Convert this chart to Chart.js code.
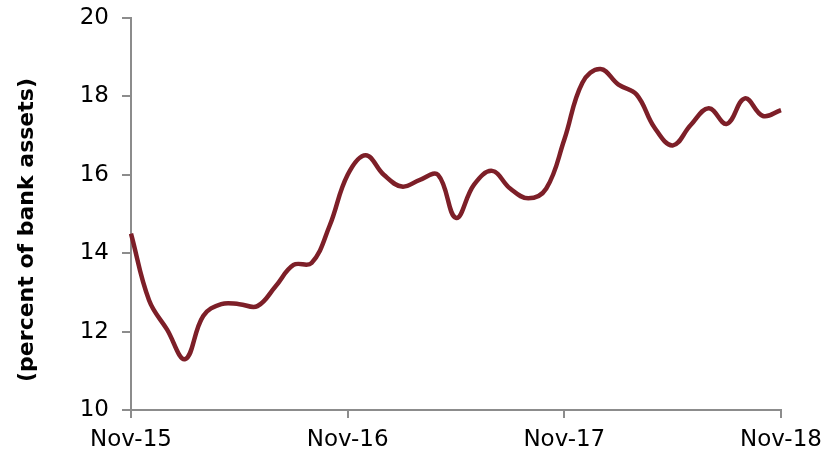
<!DOCTYPE html>
<html>
<head>
<meta charset="utf-8">
<script src="https://cdn.jsdelivr.net/npm/chart.js@4"></script>
<style>
  html, body { margin: 0; padding: 0; background: #fff; }
  #wrap { width: 832px; height: 454px; }
</style>
</head>
<body>
<div id="wrap"><canvas id="grafica"></canvas></div>
<script>
// meses de nov-15 a nov-18
var meses = ['Nov-15','Dec-15','Jan-16','Feb-16','Mar-16','Apr-16','May-16','Jun-16','Jul-16','Aug-16','Sep-16','Oct-16',
  'Nov-16','Dec-16','Jan-17','Feb-17','Mar-17','Apr-17','May-17','Jun-17','Jul-17','Aug-17','Sep-17','Oct-17',
  'Nov-17','Dec-17','Jan-18','Feb-18','Mar-18','Apr-18','May-18','Jun-18','Jul-18','Aug-18','Sep-18','Oct-18','Nov-18'];

// porcentaje de activos bancarios
var valores = [14.5, 12.8, 12.05, 11.3, 12.4, 12.7, 12.7, 12.65, 13.15, 13.7, 13.75, 14.7,
  16.0, 16.5, 16.0, 15.7, 15.87, 16.0, 14.9, 15.75, 16.1, 15.65, 15.4, 15.65,
  16.9, 18.35, 18.7, 18.3, 18.05, 17.2, 16.75, 17.27, 17.7, 17.3, 17.95, 17.5, 17.65];

var tituloY = '(percent of bank assets)';
var ticksY = [10, 12, 14, 16, 18, 20];

var gris = '#8c8c8c';
var fuente = '"DejaVu Sans", sans-serif';

// dibuja el titulo del eje y
var tituloPlugin = {
  id: 'tituloY',
  afterDraw: function(chart) {
    var ctx = chart.ctx;
    ctx.save();
    ctx.translate(27, 230);
    ctx.rotate(-Math.PI / 2);
    ctx.font = 'bold 22px ' + fuente;
    ctx.fillStyle = '#000';
    ctx.textAlign = 'center';
    ctx.textBaseline = 'middle';
    ctx.fillText(tituloY, 0, 0);
    ctx.restore();
  }
};

var grafica = new Chart(document.getElementById('grafica').getContext('2d'), {
  type: 'line',
  data: {
    labels: meses,
    datasets: [{
      label: tituloY,
      data: valores,
      borderColor: '#7d1f28',
      borderWidth: 4.5,
      pointRadius: 0,
      tension: 0.4,
      fill: false
    }]
  },
  options: {
    responsive: true,
    maintainAspectRatio: false,
    animation: false,
    layout: { padding: { top: 0, right: 51, left: 0, bottom: 0 } },
    plugins: {
      legend: { display: false },
      tooltip: { enabled: false }
    },
    scales: {
      x: {
        afterFit: function(s) { s.height = 44; },
        border: { color: gris, width: 2 },
        grid: {
          drawOnChartArea: false,
          tickLength: 8,
          lineWidth: 2,
          color: function(c) { return c.index % 12 === 0 ? gris : 'rgba(0,0,0,0)'; }
        },
        ticks: {
          autoSkip: false,
          maxRotation: 0,
          padding: 8,
          color: '#000',
          font: { family: fuente, size: 23 },
          callback: function(v, i) { return i % 12 === 0 ? meses[i] : ''; }
        }
      },
      y: {
        min: 10,
        max: 20,
        afterFit: function(s) { s.width = 131; s.paddingTop = 18; s.paddingBottom = 0; },
        afterBuildTicks: function(s) { s.ticks = ticksY.map(function(v) { return { value: v }; }); },
        border: { color: gris, width: 2 },
        grid: { drawOnChartArea: false, tickLength: 9, lineWidth: 2, color: gris },
        ticks: {
          padding: 13,
          color: '#000',
          font: { family: fuente, size: 23 }
        }
      }
    }
  },
  plugins: [tituloPlugin]
});
</script>
</body>
</html>
